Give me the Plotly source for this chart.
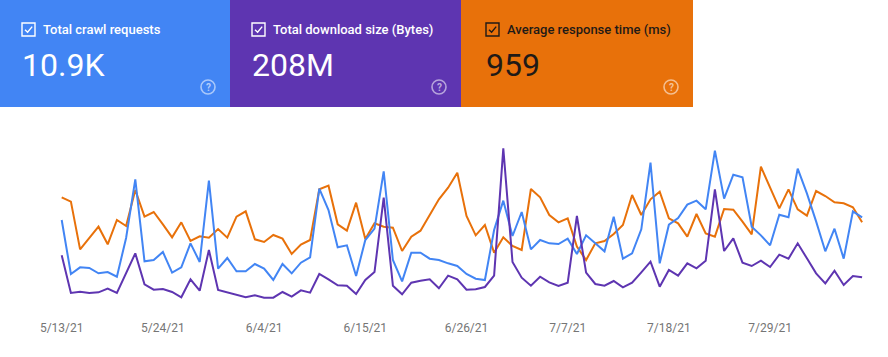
import pandas as pd
import plotly.graph_objects as go

# ---------------- data ----------------
start_date = "2021-05-13"

crawl_requests = [153, 72, 82, 81, 73, 75, 68, 126, 214, 91, 93, 105, 74, 82, 118, 90, 212, 80,
                  96, 76, 76, 87, 80, 63, 87, 73, 89, 97, 200, 168, 112, 115, 69, 123, 140, 226,
                  93, 61, 104, 104, 95, 93, 88, 84, 72, 65, 63, 138, 182, 129, 165, 109, 123, 118,
                  117, 125, 102, 130, 118, 106, 158, 95, 103, 139, 239, 88, 146, 156, 176, 182, 169, 257,
                  185, 221, 217, 143, 130, 115, 161, 157, 230, 193, 151, 106, 140, 95, 166, 157]

download_kb = [3550, 1290, 1370, 1290, 1330, 1550, 1290, 2510, 3670, 1810, 1490, 1530, 1350, 1030, 2110, 1430, 3870, 1470,
               1310, 1170, 1030, 1150, 1010, 1010, 1350, 1070, 1450, 1310, 2430, 2110, 1750, 1730, 1230, 2070, 2550, 7010,
               1730, 1210, 1910, 2030, 2110, 1570, 2330, 2110, 1490, 1510, 1650, 2330, 9970, 3150, 2210, 1730, 2270, 1930,
               1710, 1910, 5910, 2510, 1830, 1730, 2010, 1630, 1910, 2530, 3170, 1670, 2670, 2330, 3070, 2770, 3230, 7510,
               3810, 4570, 3110, 2910, 3230, 2850, 3590, 3350, 4270, 3370, 2470, 1870, 2630, 1770, 2310, 2230]

response_ms = [1171, 1132, 703, 808, 907, 748, 967, 913, 1237, 997, 1039, 928, 811, 946, 778, 820, 808, 886,
               808, 997, 1045, 793, 769, 832, 799, 661, 745, 787, 1243, 1276, 928, 871, 1123, 796, 937, 907,
               898, 688, 817, 871, 1018, 1153, 1258, 1393, 1003, 829, 922, 673, 811, 733, 697, 1246, 1171, 1012,
               946, 982, 727, 607, 757, 778, 841, 922, 1192, 1012, 1153, 1222, 982, 937, 817, 1021, 847, 817,
               1066, 1060, 952, 838, 1447, 1261, 1072, 1243, 1063, 1006, 1228, 1183, 1126, 1117, 1081, 946]

tick_dates = ["2021-05-13", "2021-05-24", "2021-06-04", "2021-06-15",
              "2021-06-26", "2021-07-07", "2021-07-18", "2021-07-29"]
tick_labels = ["5/13/21", "5/24/21", "6/4/21", "6/15/21",
               "6/26/21", "7/7/21", "7/18/21", "7/29/21"]

card_titles = ["Total crawl requests", "Total download size (Bytes)", "Average response time (ms)"]
card_values = ["10.9K", "208M", "959"]

# ---------------- styling ----------------
W, H = 888, 357
BLUE, PURPLE, ORANGE = "#4285F4", "#5E35B1", "#E8710A"
FONT = "Roboto"

def fx(x):
    return x / W

def fy(y):
    return 1 - y / H

dates = pd.date_range(start_date, periods=len(crawl_requests), freq="D")

# plot area in pixels
PL, PR, PT, PB = 50, 875, 140, 315
first_px, px_per_day = 61.7, 9.2
x0 = dates[0] - pd.Timedelta(days=(first_px - PL) / px_per_day)
x1 = dates[0] + pd.Timedelta(days=(PR - first_px) / px_per_day)

fig = go.Figure()
fig.add_trace(go.Scatter(x=dates, y=response_ms, mode="lines", yaxis="y",
                         line=dict(color=ORANGE, width=2), name=card_titles[2]))
fig.add_trace(go.Scatter(x=dates, y=crawl_requests, mode="lines", yaxis="y2",
                         line=dict(color=BLUE, width=2), name=card_titles[0]))
fig.add_trace(go.Scatter(x=dates, y=download_kb, mode="lines", yaxis="y3",
                         line=dict(color=PURPLE, width=2), name=card_titles[1]))

shapes = []
annotations = []
card_bounds = [(0, 230), (230, 461), (461, 693)]
card_colors = [BLUE, PURPLE, ORANGE]
text_colors = ["#FFFFFF", "#FFFFFF", "#1F1A17"]
for (cx0, cx1), col, tcol, title, val in zip(card_bounds, card_colors, text_colors,
                                             card_titles, card_values):
    shapes.append(dict(type="rect", xref="paper", yref="paper",
                       x0=fx(cx0), x1=fx(cx1), y0=fy(107), y1=fy(0),
                       fillcolor=col, line=dict(width=0), layer="below"))
    bx = cx0 + 22 + (3 if cx0 > 400 else 0)
    # checkbox
    shapes.append(dict(type="rect", xref="paper", yref="paper",
                       x0=fx(bx), x1=fx(bx + 13), y0=fy(36), y1=fy(23),
                       line=dict(color=tcol, width=1.4), fillcolor="rgba(0,0,0,0)"))
    path = "M {:.5f},{:.5f} L {:.5f},{:.5f} L {:.5f},{:.5f}".format(
        fx(bx + 3), fy(29.8), fx(bx + 5.6), fy(32.3), fx(bx + 10.2), fy(26.6))
    shapes.append(dict(type="path", xref="paper", yref="paper", path=path,
                       line=dict(color=tcol, width=1.4)))
    annotations.append(dict(xref="paper", yref="paper", x=fx(bx + 19), y=fy(29.5),
                            xanchor="left", yanchor="middle", showarrow=False,
                            text=title, font=dict(family=FONT, size=13, color=tcol, weight=500)))
    annotations.append(dict(xref="paper", yref="paper", x=fx(bx - 2), y=fy(65),
                            xanchor="left", yanchor="middle", showarrow=False,
                            text=val, font=dict(family=FONT, size=32, color=tcol)))
    # help icon
    ix = cx1 - 22
    shapes.append(dict(type="circle", xref="paper", yref="paper",
                       x0=fx(ix - 7), x1=fx(ix + 7), y0=fy(94), y1=fy(80),
                       line=dict(color="rgba(255,255,255,0.55)", width=1.6)))
    annotations.append(dict(xref="paper", yref="paper", x=fx(ix), y=fy(87.5),
                            xanchor="center", yanchor="middle", showarrow=False,
                            text="<b>?</b>",
                            font=dict(family=FONT, size=10, color="rgba(255,255,255,0.6)")))

ydom = [fy(PB), fy(PT)]
fig.update_layout(
    width=W, height=H,
    margin=dict(l=0, r=0, t=0, b=0, pad=0, autoexpand=False),
    paper_bgcolor="white", plot_bgcolor="white",
    showlegend=False,
    shapes=shapes, annotations=annotations,
    xaxis=dict(type="date", domain=[fx(PL), fx(PR)], range=[x0, x1],
               tickvals=tick_dates, ticktext=tick_labels, automargin=False,
               ticklabelstandoff=4,
               showgrid=False, zeroline=False, showline=False, ticks="",
               tickfont=dict(family=FONT, size=12, color="#757575"), fixedrange=True),
    yaxis=dict(domain=ydom, range=[112, 1687], visible=False, fixedrange=True, automargin=False),
    yaxis2=dict(overlaying="y", range=[10.5, 273], visible=False, fixedrange=True, automargin=False),
    yaxis3=dict(overlaying="y", range=[-30, 10470], visible=False, fixedrange=True, automargin=False),
)

fig.write_html("out.html", config={"displayModeBar": False},
               post_script="document.body.style.margin='0';document.body.style.overflow='hidden';")
